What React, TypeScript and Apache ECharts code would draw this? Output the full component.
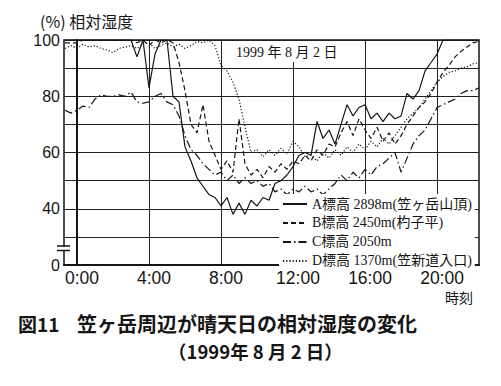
import React, { useEffect, useRef } from "react";
import * as echarts from "echarts";

// sampling: every 20 minutes starting at 23:20 of the previous day (hour -2/3)
const startHour = -2 / 3;
const stepHour = 1 / 3;

const seriesNames = [
  "A標高 2898m(笠ヶ岳山頂)",
  "B標高 2450m(杓子平)",
  "C標高 2050m",
  "D標高 1370m(笠新道入口)",
];

const humidityA = [
  100, 100, 100, 100, 100, 100, 100, 100, 100, 100, 100, 100,
  94, 100, 83, 95, 100, 100, 80, 78, 62, 57, 51, 48, 45, 44, 41, 44, 38, 42, 38, 43, 41, 44, 43, 49,
  50, 52, 55, 59, 60, 59, 71, 65, 68, 63, 70, 77, 73, 76, 77, 72, 74, 71, 74, 72, 73, 81, 79, 82,
  89, 92, 95, 100, 100, 100, 100, 100, 100, 100,
];

const humidityB = [
  99, 99, 99, 100, 100, 100, 100, 100, 100, 100, 100, 100,
  99, 100, 98, 100, 99, 100, 99, 92, 82, 70, 67, 77, 64, 59, 54, 57, 53, 72, 56, 52, 54, 51, 55, 53,
  56, 54, 57, 56, 59, 57, 61, 59, 63, 62, 67, 71, 66, 72, 68, 65, 69, 64, 67, 63, 66, 70, 73, 76,
  78, 81, 85, 88.5, 91, 94, 96, 97.5, 99, 99.5,
];

const humidityC = [
  75, 74, 75, 76.5, 76, 79, 80.5, 80, 80, 80.5, 80, 81.5,
  78, 77.5, 78, 80, 81, 78, 77, 73, 66, 61, 59, 56, 54, 52, 53, 50, 52, 49, 51, 49, 50, 48, 49, 46,
  47, 45, 47, 46, 48, 46, 47, 45, 47, 49, 52, 50, 53, 51, 54, 52, 55, 56, 58, 60, 53, 58, 63, 66,
  68, 72, 76, 77, 78, 79, 81, 82, 82, 83,
];

const humidityD = [
  97, 98, 97, 98.5, 97.5, 98, 97, 96.5, 95.5, 97, 97.5, 98,
  97, 98.5, 99, 97, 98, 99, 97.5, 98.5, 97, 98, 99.5, 99, 100, 98, 91, 89, 85, 79, 69, 60, 61, 58.5, 61, 59,
  61.5, 59.5, 64, 62, 58.5, 59, 57, 60, 58, 61, 59, 62, 60, 63, 61, 64, 62, 65, 63, 66, 69, 72, 74, 76,
  79, 82, 85, 87, 88.5, 89, 90, 90.5, 91.5, 92,
];

const xTickHours = [0, 4, 8, 12, 16, 20];
const xTickLabels = ["0:00", "4:00", "8:00", "12:00", "16:00", "20:00"];
const yTickValues = [20, 40, 60, 80, 100];
const yTickLabels = ["0", "40", "60", "80", "100"];

const yTitle = "(%) 相対湿度";
const dateText = "1999 年 8 月 2 日";
const xTitle = "時刻";
const captionNo = "図11";
const captionMain = "笠ヶ岳周辺が晴天日の相対湿度の変化";
const captionSub = "（1999年 8 月 2 日）";

const lineTypes: any[] = ["solid", [5, 3], [8, 3, 1.5, 3], [1.2, 2]];

export default function App() {
  const ref = useRef<HTMLDivElement>(null);
  useEffect(() => {
    if (!ref.current) return;
    const chart = echarts.init(ref.current, undefined, { renderer: "svg" });
    const all = [humidityA, humidityB, humidityC, humidityD];
    const toPairs = (vals: number[]) => vals.map((v, i) => [startHour + i * stepHour, v]);
    const ink = "#151515";
    const sans = "'Liberation Sans', Arial, sans-serif";
    const cjk = "'Noto Sans CJK JP', sans-serif";
    const serif = "'Liberation Serif', 'Noto Sans CJK JP', serif";

    chart.setOption({
      animation: false,
      backgroundColor: "#fff",
      grid: {
        left: 64,
        right: 22,
        top: 40,
        bottom: 121,
        show: true,
        borderColor: ink,
        borderWidth: 1.5,
      },
      legend: {
        data: seriesNames,
        orient: "vertical",
        left: 279,
        top: 194,
        itemWidth: 24,
        itemHeight: 12,
        itemGap: 5,
        padding: [3, 3, 3, 3],
        backgroundColor: "#fff",
        itemStyle: { opacity: 0 },
        textStyle: { fontFamily: serif, fontSize: 14, color: ink },
        selectedMode: false,
      },
      xAxis: {
        type: "value",
        min: -0.72,
        max: 22.33,
        axisLine: { show: true, lineStyle: { color: ink, width: 2 } },
        axisTick: { show: false, customValues: xTickHours },
        axisLabel: {
          customValues: xTickHours,
          formatter: (v: number) => xTickLabels[xTickHours.indexOf(v)] ?? "",
          fontFamily: sans,
          fontSize: 17.5,
          lineHeight: 16,
          color: ink,
          margin: 5,
          padding: [0, 0, 0, 10],
        },
        splitLine: { show: true, lineStyle: { color: "#222", width: 1 } },
      },
      yAxis: {
        type: "value",
        min: 20,
        max: 100,
        interval: 10,
        axisLine: { show: true, lineStyle: { color: ink, width: 2 } },
        axisTick: { show: false },
        axisLabel: {
          formatter: (v: number) => {
            const k = yTickValues.indexOf(v);
            return k >= 0 ? yTickLabels[k] : "";
          },
          fontFamily: sans,
          fontSize: 16,
          lineHeight: 14,
          color: ink,
          margin: 4,
        },
        splitLine: { show: true, lineStyle: { color: "#222", width: 1 } },
      },
      series: all.map((vals, k) => ({
        name: seriesNames[k],
        type: "line",
        data: toPairs(vals),
        symbol: "none",
        showSymbol: false,
        lineStyle: { color: ink, width: 1.2, type: lineTypes[k] },
        itemStyle: { color: ink },
        z: 3,
      })),
      graphic: [
        {
          type: "text",
          left: 40,
          top: 13,
          z: 100,
          style: { text: yTitle, font: `16px ${cjk}`, fill: ink, lineHeight: 16 },
        },
        {
          type: "rect",
          shape: { x: 224, y: 41, width: 116, height: 21 },
          z: 100,
          style: { fill: "#fff" },
        },
        {
          type: "text",
          left: 236,
          top: 45,
          z: 101,
          style: { text: dateText, font: `14px ${serif}`, fill: ink, lineHeight: 15 },
        },
        {
          type: "rect",
          shape: { x: 60, y: 246.5, width: 8, height: 3.5 },
          z: 100,
          style: { fill: "#fff" },
        },
        {
          type: "line",
          shape: { x1: 57, y1: 246, x2: 70, y2: 246 },
          z: 101,
          style: { stroke: ink, lineWidth: 1.5 },
        },
        {
          type: "line",
          shape: { x1: 57, y1: 250.5, x2: 70, y2: 250.5 },
          z: 101,
          style: { stroke: ink, lineWidth: 1.5 },
        },
        {
          type: "text",
          left: 445,
          top: 290,
          z: 100,
          style: { text: xTitle, font: `14px ${cjk}`, fill: ink, lineHeight: 14 },
        },
        {
          type: "text",
          left: 18,
          top: 313,
          z: 100,
          style: { text: captionNo, font: `bold 19px ${cjk}`, fill: ink, lineHeight: 20 },
        },
        {
          type: "text",
          left: 77,
          top: 313,
          z: 100,
          style: { text: captionMain, font: `bold 20px ${cjk}`, fill: ink, lineHeight: 20 },
        },
        {
          type: "text",
          left: 168,
          top: 341,
          z: 100,
          style: { text: captionSub, font: `bold 18.5px ${cjk}`, fill: ink, lineHeight: 19 },
        },
      ],
    });
    return () => chart.dispose();
  }, []);
  return (
    <div
      ref={ref}
      style={{ position: "fixed", left: 0, top: 0, width: 501, height: 386, background: "#fff" }}
    />
  );
}
